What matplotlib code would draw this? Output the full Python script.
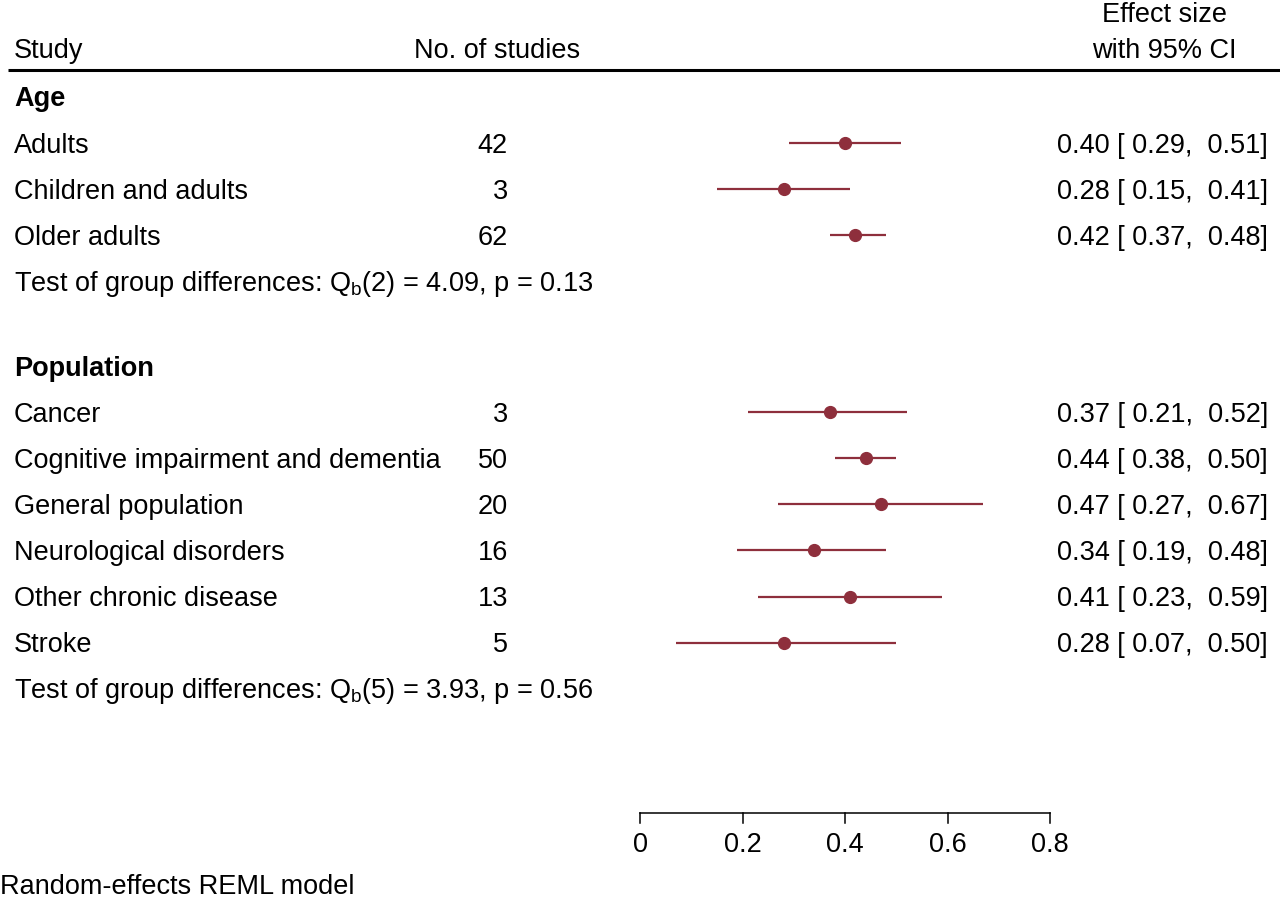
import matplotlib
matplotlib.use("Agg")
import matplotlib.pyplot as plt

plt.rcParams['font.family'] = ['Liberation Sans', 'DejaVu Sans']
plt.rcParams['mathtext.fontset'] = 'custom'
plt.rcParams['mathtext.rm'] = 'Liberation Sans'
plt.rcParams['mathtext.it'] = 'Liberation Sans:italic'
plt.rcParams['mathtext.bf'] = 'Liberation Sans:bold'

# ---- data ----
age_labels = ["Adults", "Children and adults", "Older adults"]
age_k = [42, 3, 62]
age_est = [0.40, 0.28, 0.42]
age_lo = [0.29, 0.15, 0.37]
age_hi = [0.51, 0.41, 0.48]
age_test = "Test of group differences: Q$_\\mathrm{b}$(2) = 4.09, p = 0.13"

pop_labels = ["Cancer", "Cognitive impairment and dementia", "General population",
              "Neurological disorders", "Other chronic disease", "Stroke"]
pop_k = [3, 50, 20, 16, 13, 5]
pop_est = [0.37, 0.44, 0.47, 0.34, 0.41, 0.28]
pop_lo = [0.21, 0.38, 0.27, 0.19, 0.23, 0.07]
pop_hi = [0.52, 0.50, 0.67, 0.48, 0.59, 0.50]
pop_test = "Test of group differences: Q$_\\mathrm{b}$(5) = 3.93, p = 0.56"

xticks = [0, 0.2, 0.4, 0.6, 0.8]
xtick_labels = ["0", "0.2", "0.4", "0.6", "0.8"]

# ---- layout ----
W, H = 1280, 899
scale = 512.5          # pixels per effect unit
x0_px = 640            # pixel of effect 0
color = "#8e2f3c"
fs = 19.5
dy = 2.5               # text vertical nudge (px)

fig = plt.figure(figsize=(W / 100, H / 100), dpi=100)
ax = fig.add_axes([0, 0, 1, 1])
ax.set_xlim(-x0_px / scale, (W - x0_px) / scale)
ax.set_ylim(H, 0)
ax.axis("off")

def px(p):
    return (p - x0_px) / scale

def txt(x, y, s, **kw):
    ax.text(x, y + dy, s, va="center", fontsize=fs, **kw)

x_label = px(14)
x_k = px(508)
x_ci = px(1268)

# header
txt(x_label, 48, "Study", ha="left")
txt(px(580), 48, "No. of studies", ha="right")
txt(px(1164), 13, "Effect size", ha="center")
txt(px(1164), 48, "with 95% CI", ha="center")
ax.plot([px(8), px(1280)], [70, 70], color="black", lw=2.2, solid_capstyle="butt")

def group(title, y_title, labels, ks, est, lo, hi, test, pitch=46.1):
    txt(x_label, y_title, title, ha="left", fontweight="bold")
    y = y_title
    for lab, k, e, l, h in zip(labels, ks, est, lo, hi):
        y += pitch
        txt(x_label, y, lab, ha="left")
        txt(x_k, y, str(k), ha="right")
        ax.plot([l, h], [y, y], color=color, lw=1.6, solid_capstyle="butt")
        ax.plot([e], [y], "o", color=color, markersize=8.5)
        txt(x_ci, y, f"{e:.2f} [{l:5.2f}, {h:5.2f}]", ha="right")
    y += pitch
    txt(x_label, y, test, ha="left")

group("Age", 97, age_labels, age_k, age_est, age_lo, age_hi, age_test)
group("Population", 366, pop_labels, pop_k, pop_est, pop_lo, pop_hi, pop_test)

# x axis
y_axis = 813
ax.plot([xticks[0], xticks[-1]], [y_axis, y_axis], color="black", lw=1.1)
for t, tl in zip(xticks, xtick_labels):
    ax.plot([t, t], [y_axis, y_axis + 10], color="black", lw=1.1)
    txt(t, 843, tl, ha="center")

txt(px(0), 885, "Random-effects REML model", ha="left")

fig.savefig("out.png", dpi=100)
